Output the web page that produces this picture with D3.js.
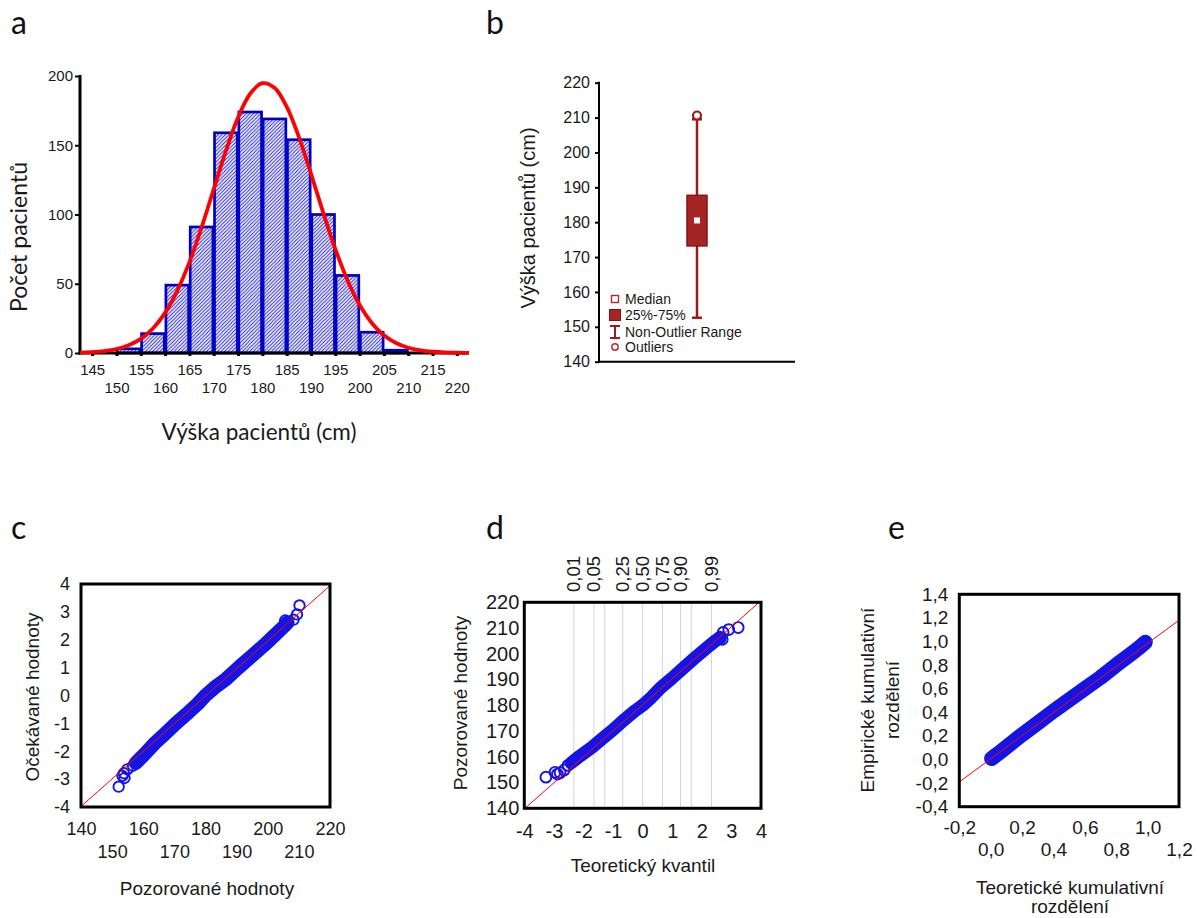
<!DOCTYPE html>
<html><head><meta charset="utf-8">
<script src="https://cdn.jsdelivr.net/npm/d3@7"></script>
<style>
body{margin:0;background:#fff;}
svg text{font-family:"Liberation Sans",Arial,sans-serif;fill:#1a1a1a;}
</style></head><body>
<svg id="chart" width="1197" height="918"></svg>
<script>
// ---------------- DATA ----------------
// (a) histogram
const binStarts = [145,150,155,160,165,170,175,180,185,190,195,200,205,210,215];
const binCounts = [0,3,14,49,91,159,174,169,154,100,56,15,2,0,0];
const binWidth = 5;
const curveX = [142.5,145,147.5,150,152.5,155,157.5,160,162.5,165,167.5,170,172.5,175,177.5,180,182.5,185,187.5,190,192.5,195,197.5,200,202.5,205,207.5,210,212.5,215,217.5,220,222.5];
const curveY = [0.3,0.6,1.4,2.9,5.6,10.2,17.7,29,44.9,65.6,90.6,118.3,145.9,170,187.2,194.8,191.5,177.9,156.1,129.5,101.5,75.2,52.6,34.8,21.7,12.8,7.2,3.8,1.9,0.9,0.4,0.2,0.1];
const histXTicksTop = [145,155,165,175,185,195,205,215];
const histXTicksBottom = [150,160,170,180,190,200,210,220];
const histXTickMarks = [145,150,155,160,165,170,175,180,185,190,195,200,205,210,215,220];
const histYTicks = [0,50,100,150,200];

// (b) box plot
const boxCategory = ["Výška pacientů"];
const boxStats = [152.6, 173.2, 180.5, 187.7, 209.5]; // min, q1, median, q3, max (non-outlier range)
const boxOutliers = [210.6];
const boxYTicks = [140,150,160,170,180,190,200,210,220];
const legendLabels = ["Median","25%-75%","Non-Outlier Range","Outliers"];

// (c, d) normal Q-Q: dense band (theoretical z, observed cm) + separate points
const qqBandZ   = [-2.42,-2.2,-2.0,-1.7,-1.4,-1.0,-0.6,-0.3,0.0,0.3,0.6,1.0,1.4,1.8,2.2,2.5,2.62];
const qqBandObs = [157.6,159.6,161.3,163.8,166.7,170.5,174.6,177.5,180.0,183.1,186.7,190.6,194.7,198.8,202.6,205.4,206.4];
const qqPointZ   = [-3.27,-2.96,-2.88,-2.79,-2.65,-2.52,2.62,2.69,2.72,2.91,3.23];
const qqPointObs = [152.1,154.0,153.3,153.8,154.9,156.7,205.9,205.6,208.3,209.4,210.2];
const refLineObs = [140,220];
const refLineZ   = [-3.98,3.94];
const cXTicksTop = [140,160,180,200,220];
const cXTicksBottom = [150,170,190,210];
const cYTicks = [-4,-3,-2,-1,0,1,2,3,4];
const dXTicks = [-4,-3,-2,-1,0,1,2,3,4];
const dYTicks = [140,150,160,170,180,190,200,210,220];
const probGridZ   = [-2.326,-1.645,-1.282,-0.674,0,0.674,1.282,1.645,2.326];
const probLabels  = ["0,01","0,05","","0,25","0,50","0,75","0,90","","0,99"];

// (e) P-P plot
const ppTheo = [0.006,0.05,0.1,0.2,0.3,0.4,0.5,0.6,0.7,0.8,0.9,0.95,0.985];
const ppEmp  = [0.008,0.052,0.105,0.21,0.31,0.41,0.505,0.6,0.695,0.8,0.9,0.952,0.993];
const eLineT = [-0.2,1.2];
const eLineE = [-0.19,1.18];
const eXTicksTop = [-0.2,0.2,0.6,1.0];
const eXTicksBottom = [0.0,0.4,0.8,1.2];
const eYTicks = [-0.4,-0.2,0,0.2,0.4,0.6,0.8,1.0,1.2,1.4];

// ---------------- DRAW ----------------
const svg = d3.select("#chart");
const loc = d3.formatLocale({decimal:",",thousands:" ",grouping:[3],currency:["",""],minus:"-"});
const fmt0 = loc.format("d");
const fmt1 = loc.format(".1f");
const BLUE = "#1414e6", RED = "#ff0000", DRED = "#9c1a1a";
const TITLEFONT = "Lato, 'Open Sans', sans-serif";

// defs
const defs = svg.append("defs");
const pat = defs.append("pattern").attr("id","hatch").attr("patternUnits","userSpaceOnUse")
  .attr("width",3.6).attr("height",3.6);
pat.append("rect").attr("width",3.6).attr("height",3.6).attr("fill","#fff");
pat.append("path").attr("d","M-1,1 L1,-1 M0,3.6 L3.6,0 M2.6,4.6 L4.6,2.6").attr("stroke","#2020d4").attr("stroke-width",1.05);

function letter(t,x,y){
  svg.append("text").attr("x",x).attr("y",y).text(t)
    .style("font-family",TITLEFONT).style("font-size","32px").style("fill","#111");
}
letter("a",11,34); letter("b",486,34);
letter("c",11,539); letter("d",486,539); letter("e",888,539);

// ===== (a) histogram =====
{
  const x = d3.scaleLinear([142.5,222.5],[80,469]);
  const y = d3.scaleLinear([0,200],[353,76]);
  const g = svg.append("g");
  const bins = binStarts.map((s,i)=>({s,c:binCounts[i]})).filter(d=>d.c>0);
  g.selectAll("rect.bar").data(bins).join("rect").attr("class","bar")
    .attr("x",d=>x(d.s)+0.8).attr("width",d=>x(d.s+binWidth)-x(d.s)-1.6)
    .attr("y",d=>y(d.c)).attr("height",d=>y(0)-y(d.c))
    .attr("fill","url(#hatch)").attr("stroke","#0000c4").attr("stroke-width",2.7);
  // y axis
  const ya = g.append("g").attr("transform","translate(80,0)")
    .call(d3.axisLeft(y).tickValues(histYTicks).tickSize(5).tickPadding(2).tickFormat(fmt0));
  ya.select(".domain").remove();
  ya.selectAll(".tick line").attr("stroke","#000").attr("stroke-width",2);
  ya.selectAll("text").style("font-size","15px").attr("fill","#1a1a1a");
  g.append("line").attr("x1",80).attr("x2",80).attr("y1",75).attr("y2",354.5).attr("stroke","#000").attr("stroke-width",3);
  // x axis
  const xm = g.append("g").attr("transform","translate(0,353)")
    .call(d3.axisBottom(x).tickValues(histXTickMarks).tickSize(3).tickFormat(""));
  xm.select(".domain").remove();
  xm.selectAll(".tick line").attr("stroke","#000").attr("stroke-width",3);
  const xt = g.append("g").attr("transform","translate(0,353)")
    .call(d3.axisBottom(x).tickValues(histXTicksTop).tickSize(0).tickFormat(fmt0));
  xt.select(".domain").remove();
  xt.selectAll("text").attr("y",17).attr("dy","0.35em").style("font-size","15px").attr("fill","#1a1a1a");
  const xb = g.append("g").attr("transform","translate(0,353)")
    .call(d3.axisBottom(x).tickValues(histXTicksBottom).tickSize(0).tickFormat(fmt0));
  xb.select(".domain").remove();
  xb.selectAll("text").attr("y",35).attr("dy","0.35em").style("font-size","15px").attr("fill","#1a1a1a");
  g.append("line").attr("x1",78.5).attr("x2",469).attr("y1",353).attr("y2",353).attr("stroke","#000").attr("stroke-width",3);
  // normal curve
  const line = d3.line().x((d,i)=>x(curveX[i])).y(d=>y(d)).curve(d3.curveCatmullRom);
  g.append("path").attr("d",line(curveY)).attr("fill","none").attr("stroke",RED).attr("stroke-width",3.8);
  // titles
  g.append("text").attr("x",259).attr("y",432).attr("dy","0.35em").attr("text-anchor","middle")
    .style("font-family",TITLEFONT).style("font-size","22.5px").text("Výška pacientů (cm)");
  g.append("text").attr("transform","translate(19,237) rotate(-90)").attr("dy","0.35em").attr("text-anchor","middle")
    .style("font-family",TITLEFONT).style("font-size","23px").text("Počet pacientů");
}

// ===== (b) box plot =====
{
  const y = d3.scaleLinear([140,220],[361.7,82.7]);
  const x = d3.scaleBand(boxCategory,[599,795]);
  const cx = x(boxCategory[0]) + x.bandwidth()/2;
  const g = svg.append("g");
  const ya = g.append("g").attr("transform","translate(599,0)")
    .call(d3.axisLeft(y).tickValues(boxYTicks).tickSize(4).tickPadding(5).tickFormat(fmt0));
  ya.select(".domain").remove();
  ya.selectAll(".tick line").attr("stroke","#000").attr("stroke-width",2);
  ya.selectAll("text").style("font-size","16px").attr("fill","#1a1a1a");
  g.append("line").attr("x1",599).attr("x2",599).attr("y1",81.7).attr("y2",362.7).attr("stroke","#000").attr("stroke-width",2);
  g.append("line").attr("x1",598).attr("x2",795).attr("y1",361.7).attr("y2",361.7).attr("stroke","#000").attr("stroke-width",2);
  // whisker
  g.append("line").attr("x1",cx).attr("x2",cx).attr("y1",y(boxStats[0])).attr("y2",y(boxStats[4]))
    .attr("stroke",DRED).attr("stroke-width",2.5);
  [boxStats[0],boxStats[4]].forEach(v=>{
    g.append("line").attr("x1",cx-5).attr("x2",cx+5).attr("y1",y(v)).attr("y2",y(v))
      .attr("stroke",DRED).attr("stroke-width",2.5);
  });
  g.append("rect").attr("x",cx-10).attr("width",20).attr("y",y(boxStats[3])).attr("height",y(boxStats[1])-y(boxStats[3]))
    .attr("fill","#a52424").attr("stroke","#8a1010").attr("stroke-width",1.5);
  g.append("rect").attr("x",cx-3).attr("y",y(boxStats[2])-3).attr("width",6).attr("height",6).attr("fill","#fff");
  g.selectAll("circle.out").data(boxOutliers).join("circle").attr("class","out")
    .attr("cx",cx).attr("cy",d=>y(d)).attr("r",4).attr("fill","#fff").attr("stroke",DRED).attr("stroke-width",2.2);
  g.append("text").attr("transform","translate(528,218) rotate(-90)").attr("dy","0.35em").attr("text-anchor","middle")
    .style("font-size","20px").text("Výška pacientů (cm)");
  // legend
  const ly = [299,315,332,347], lx = 615;
  g.append("rect").attr("x",lx-3.5).attr("y",ly[0]-3.5).attr("width",7).attr("height",7).attr("fill","#fff").attr("stroke","#b02a2a").attr("stroke-width",1.4);
  g.append("rect").attr("x",lx-5.5).attr("y",ly[1]-5.5).attr("width",11).attr("height",11).attr("fill","#a52424").attr("stroke","#8a1010").attr("stroke-width",1);
  g.append("line").attr("x1",lx).attr("x2",lx).attr("y1",ly[2]-6).attr("y2",ly[2]+6).attr("stroke",DRED).attr("stroke-width",2);
  g.append("line").attr("x1",lx-5).attr("x2",lx+5).attr("y1",ly[2]-6).attr("y2",ly[2]-6).attr("stroke",DRED).attr("stroke-width",2);
  g.append("line").attr("x1",lx-5).attr("x2",lx+5).attr("y1",ly[2]+6).attr("y2",ly[2]+6).attr("stroke",DRED).attr("stroke-width",2);
  g.append("circle").attr("cx",lx).attr("cy",ly[3]).attr("r",3.2).attr("fill","#fff").attr("stroke","#b02a2a").attr("stroke-width",1.4);
  g.selectAll("text.leg").data(legendLabels).join("text").attr("class","leg")
    .attr("x",625).attr("y",(d,i)=>ly[i]).attr("dy","0.35em").style("font-size","14px").text(d=>d);
}

// helper for framed scatter panels
function frame(g,x,y){
  const [x0,x1] = x.range(), [y0,y1] = y.range();
  g.append("rect").attr("x",x0).attr("y",y1).attr("width",x1-x0).attr("height",y0-y1)
    .attr("fill","none").attr("stroke","#000").attr("stroke-width",3);
}
function clip(id,x,y){
  const [x0,x1] = x.range(), [y0,y1] = y.range();
  defs.append("clipPath").attr("id",id).append("rect").attr("x",x0).attr("y",y1).attr("width",x1-x0).attr("height",y0-y1);
}
function bottomAxis(g,x,yPos,ticks,off,fs,f){
  const a = g.append("g").attr("transform",`translate(0,${yPos})`)
    .call(d3.axisBottom(x).tickValues(ticks).tickSize(0).tickFormat(f));
  a.select(".domain").remove();
  a.selectAll("text").attr("y",off).attr("dy","0.35em").style("font-size",fs).attr("fill","#1a1a1a");
}
function leftAxis(g,y,xPos,ticks,pad,fs,f){
  const a = g.append("g").attr("transform",`translate(${xPos},0)`)
    .call(d3.axisLeft(y).tickValues(ticks).tickSize(0).tickPadding(pad).tickFormat(f));
  a.select(".domain").remove();
  a.selectAll("text").style("font-size",fs).attr("fill","#1a1a1a");
}

// ===== (c) =====
{
  const x = d3.scaleLinear([140,220],[81,330]);
  const y = d3.scaleLinear([-4,4],[807,584]);
  const g = svg.append("g");
  clip("clipC",x,y);
  const band = d3.line().x((d,i)=>x(qqBandObs[i])).y(d=>y(d));
  g.append("path").attr("d",band(qqBandZ)).attr("fill","none").attr("stroke",BLUE)
    .attr("stroke-width",14).attr("stroke-linecap","round").attr("stroke-linejoin","round");
  g.selectAll("circle.p").data(qqPointZ).join("circle").attr("class","p")
    .attr("cx",(d,i)=>x(qqPointObs[i])).attr("cy",d=>y(d)).attr("r",5.2)
    .attr("fill","none").attr("stroke",BLUE).attr("stroke-width",1.9);
  const rl = d3.line().x((d,i)=>x(refLineObs[i])).y(d=>y(d));
  g.append("path").attr("d",rl(refLineZ)).attr("stroke",RED).attr("stroke-width",1).attr("fill","none").attr("clip-path","url(#clipC)");
  frame(g,x,y);
  bottomAxis(g,x,807,cXTicksTop,22,"18px",fmt0);
  bottomAxis(g,x,807,cXTicksBottom,45,"18px",fmt0);
  leftAxis(g,y,81,cYTicks,11,"18px",fmt0);
  g.append("text").attr("x",207).attr("y",888).attr("dy","0.35em").attr("text-anchor","middle").style("font-size","19px").text("Pozorované hodnoty");
  g.append("text").attr("transform","translate(32,697) rotate(-90)").attr("dy","0.35em").attr("text-anchor","middle").style("font-size","19px").text("Očekávané hodnoty");
}

// ===== (d) =====
{
  const x = d3.scaleLinear([-4,4],[524.3,761]);
  const y = d3.scaleLinear([140,220],[808.3,602.3]);
  const g = svg.append("g");
  clip("clipD",x,y);
  g.selectAll("line.grid").data(probGridZ).join("line").attr("class","grid")
    .attr("x1",d=>x(d)).attr("x2",d=>x(d)).attr("y1",y(220)).attr("y2",y(140))
    .attr("stroke","#d4d4d4").attr("stroke-width",1);
  const band = d3.line().x(d=>x(d)).y((d,i)=>y(qqBandObs[i]));
  g.append("path").attr("d",band(qqBandZ)).attr("fill","none").attr("stroke",BLUE)
    .attr("stroke-width",13).attr("stroke-linecap","round").attr("stroke-linejoin","round");
  g.selectAll("circle.p").data(qqPointZ).join("circle").attr("class","p")
    .attr("cx",d=>x(d)).attr("cy",(d,i)=>y(qqPointObs[i])).attr("r",5.4)
    .attr("fill","none").attr("stroke",BLUE).attr("stroke-width",1.9);
  const rl = d3.line().x(d=>x(d)).y((d,i)=>y(refLineObs[i]));
  g.append("path").attr("d",rl(refLineZ)).attr("stroke",RED).attr("stroke-width",1).attr("fill","none").attr("clip-path","url(#clipD)");
  frame(g,x,y);
  bottomAxis(g,x,808.3,dXTicks,23,"20px",fmt0);
  leftAxis(g,y,524.3,dYTicks,5,"20px",fmt0);
  // top probability labels
  g.selectAll("text.prob").data(probGridZ.map((z,i)=>({z,l:probLabels[i]})).filter(d=>d.l))
    .join("text").attr("class","prob")
    .attr("transform",d=>`translate(${x(d.z)},592) rotate(-90)`).attr("dy","0.35em")
    .style("font-size","18.5px").text(d=>d.l);
  g.append("text").attr("x",643).attr("y",865).attr("dy","0.35em").attr("text-anchor","middle").style("font-size","19px").text("Teoretický kvantil");
  g.append("text").attr("transform","translate(460,703) rotate(-90)").attr("dy","0.35em").attr("text-anchor","middle").style("font-size","19px").text("Pozorované hodnoty");
}

// ===== (e) =====
{
  const x = d3.scaleLinear([-0.2,1.2],[959.3,1179]);
  const y = d3.scaleLinear([-0.4,1.4],[806.7,594.3]);
  const g = svg.append("g");
  clip("clipE",x,y);
  const band = d3.line().x((d,i)=>x(ppTheo[i])).y(d=>y(d));
  g.append("path").attr("d",band(ppEmp)).attr("fill","none").attr("stroke",BLUE)
    .attr("stroke-width",15).attr("stroke-linecap","round").attr("stroke-linejoin","round");
  const rl = d3.line().x((d,i)=>x(eLineT[i])).y(d=>y(d));
  g.append("path").attr("d",rl(eLineE)).attr("stroke",RED).attr("stroke-width",1).attr("fill","none").attr("clip-path","url(#clipE)");
  frame(g,x,y);
  bottomAxis(g,x,806.7,eXTicksTop,21,"19px",fmt1);
  bottomAxis(g,x,806.7,eXTicksBottom,43,"19px",fmt1);
  leftAxis(g,y,959.3,eYTicks,11,"19px",fmt1);
  g.append("text").attr("x",1070).attr("y",887).attr("dy","0.35em").attr("text-anchor","middle").style("font-size","19px").text("Teoretické kumulativní");
  g.append("text").attr("x",1070).attr("y",906).attr("dy","0.35em").attr("text-anchor","middle").style("font-size","19px").text("rozdělení");
  g.append("text").attr("transform","translate(867,700) rotate(-90)").attr("dy","0.35em").attr("text-anchor","middle").style("font-size","19px").text("Empirické kumulativní");
  g.append("text").attr("transform","translate(892,700) rotate(-90)").attr("dy","0.35em").attr("text-anchor","middle").style("font-size","19px").text("rozdělení");
}
</script>
</body></html>
